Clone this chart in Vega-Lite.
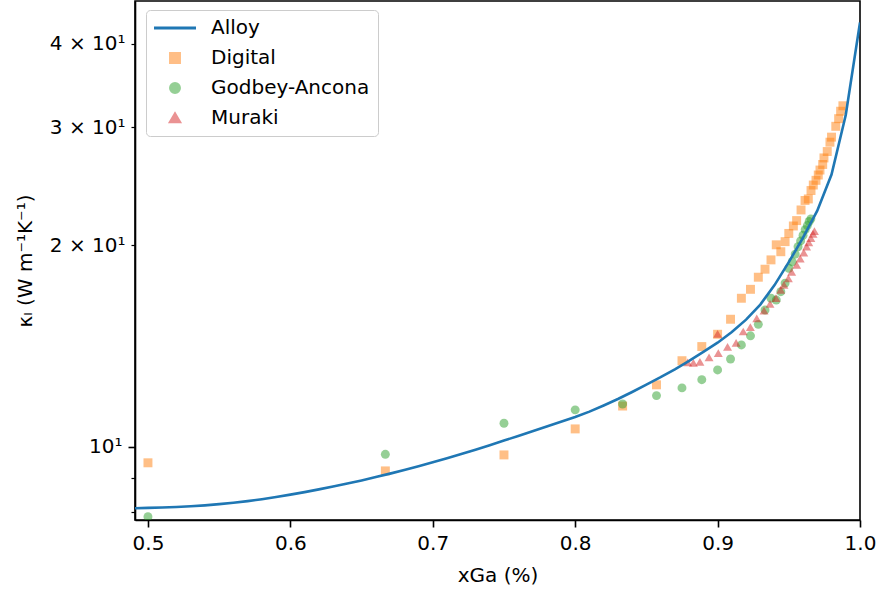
{
  "$schema": "https://vega.github.io/schema/vega-lite/v6.json",
  "width": 725,
  "height": 519,
  "autosize": {"type": "none"},
  "padding": {"left": 135, "top": 1, "right": 18, "bottom": 74},
  "background": "white",
  "config": {
    "font": "DejaVu Sans",
    "view": {"stroke": "black", "strokeWidth": 1.6},
    "axis": {
      "grid": false,
      "domainColor": "black",
      "domainWidth": 1.6,
      "tickColor": "black",
      "tickWidth": 1.6,
      "labelColor": "black",
      "labelFont": "DejaVu Sans",
      "labelFontSize": 20,
      "titleFont": "DejaVu Sans",
      "titleFontSize": 20,
      "titleFontWeight": "normal",
      "titleColor": "black"
    },
    "legend": {
      "title": null,
      "orient": "none",
      "legendX": 11,
      "legendY": 9,
      "padding": 8,
      "fillColor": "white",
      "strokeColor": "#cccccc",
      "cornerRadius": 4,
      "labelFont": "DejaVu Sans",
      "labelFontSize": 20,
      "labelColor": "black",
      "labelOffset": 15,
      "symbolSize": 1764,
      "clipHeight": 20,
      "rowPadding": 10
    }
  },
  "datasets": {
    "alloy": [
      {"series": "Alloy", "x": 0.49, "y": 8.10}, {"series": "Alloy", "x": 0.50, "y": 8.11},
      {"series": "Alloy", "x": 0.51, "y": 8.12}, {"series": "Alloy", "x": 0.52, "y": 8.135},
      {"series": "Alloy", "x": 0.53, "y": 8.155}, {"series": "Alloy", "x": 0.54, "y": 8.182},
      {"series": "Alloy", "x": 0.55, "y": 8.215}, {"series": "Alloy", "x": 0.56, "y": 8.255},
      {"series": "Alloy", "x": 0.57, "y": 8.302}, {"series": "Alloy", "x": 0.58, "y": 8.356},
      {"series": "Alloy", "x": 0.59, "y": 8.418}, {"series": "Alloy", "x": 0.60, "y": 8.488},
      {"series": "Alloy", "x": 0.61, "y": 8.563}, {"series": "Alloy", "x": 0.62, "y": 8.643},
      {"series": "Alloy", "x": 0.63, "y": 8.728}, {"series": "Alloy", "x": 0.64, "y": 8.818},
      {"series": "Alloy", "x": 0.65, "y": 8.914}, {"series": "Alloy", "x": 0.66, "y": 9.016},
      {"series": "Alloy", "x": 0.67, "y": 9.124}, {"series": "Alloy", "x": 0.68, "y": 9.238},
      {"series": "Alloy", "x": 0.69, "y": 9.358}, {"series": "Alloy", "x": 0.70, "y": 9.484},
      {"series": "Alloy", "x": 0.71, "y": 9.617}, {"series": "Alloy", "x": 0.72, "y": 9.757},
      {"series": "Alloy", "x": 0.73, "y": 9.904}, {"series": "Alloy", "x": 0.74, "y": 10.059},
      {"series": "Alloy", "x": 0.75, "y": 10.222}, {"series": "Alloy", "x": 0.76, "y": 10.387},
      {"series": "Alloy", "x": 0.77, "y": 10.555}, {"series": "Alloy", "x": 0.78, "y": 10.727},
      {"series": "Alloy", "x": 0.79, "y": 10.903}, {"series": "Alloy", "x": 0.80, "y": 11.085},
      {"series": "Alloy", "x": 0.81, "y": 11.29}, {"series": "Alloy", "x": 0.82, "y": 11.53},
      {"series": "Alloy", "x": 0.83, "y": 11.79}, {"series": "Alloy", "x": 0.84, "y": 12.08},
      {"series": "Alloy", "x": 0.85, "y": 12.39}, {"series": "Alloy", "x": 0.86, "y": 12.71},
      {"series": "Alloy", "x": 0.87, "y": 13.06}, {"series": "Alloy", "x": 0.88, "y": 13.44},
      {"series": "Alloy", "x": 0.89, "y": 13.86}, {"series": "Alloy", "x": 0.90, "y": 14.31},
      {"series": "Alloy", "x": 0.91, "y": 14.84}, {"series": "Alloy", "x": 0.92, "y": 15.49},
      {"series": "Alloy", "x": 0.93, "y": 16.31}, {"series": "Alloy", "x": 0.94, "y": 17.44},
      {"series": "Alloy", "x": 0.95, "y": 18.87}, {"series": "Alloy", "x": 0.96, "y": 20.53},
      {"series": "Alloy", "x": 0.97, "y": 22.52}, {"series": "Alloy", "x": 0.98, "y": 25.50},
      {"series": "Alloy", "x": 0.99, "y": 31.30}, {"series": "Alloy", "x": 1.00, "y": 43.00}
    ],
    "pts": [
      {"series": "Digital", "x": 0.5, "y": 9.47},
      {"series": "Digital", "x": 0.6667, "y": 9.21},
      {"series": "Digital", "x": 0.75, "y": 9.73},
      {"series": "Digital", "x": 0.8, "y": 10.64},
      {"series": "Digital", "x": 0.8333, "y": 11.51},
      {"series": "Digital", "x": 0.8571, "y": 12.38},
      {"series": "Digital", "x": 0.875, "y": 13.45},
      {"series": "Digital", "x": 0.8889, "y": 14.12},
      {"series": "Digital", "x": 0.9, "y": 14.73},
      {"series": "Digital", "x": 0.9091, "y": 15.51},
      {"series": "Digital", "x": 0.9167, "y": 16.67},
      {"series": "Digital", "x": 0.9231, "y": 17.19},
      {"series": "Digital", "x": 0.9286, "y": 17.92},
      {"series": "Digital", "x": 0.9333, "y": 18.42},
      {"series": "Digital", "x": 0.9375, "y": 19.02},
      {"series": "Digital", "x": 0.9412, "y": 20.03},
      {"series": "Digital", "x": 0.9444, "y": 19.56},
      {"series": "Digital", "x": 0.9474, "y": 20.25},
      {"series": "Digital", "x": 0.95, "y": 20.83},
      {"series": "Digital", "x": 0.9532, "y": 21.37},
      {"series": "Digital", "x": 0.9555, "y": 21.77},
      {"series": "Digital", "x": 0.9586, "y": 22.58},
      {"series": "Digital", "x": 0.9614, "y": 23.33},
      {"series": "Digital", "x": 0.9637, "y": 23.45},
      {"series": "Digital", "x": 0.9656, "y": 24.14},
      {"series": "Digital", "x": 0.9672, "y": 24.6},
      {"series": "Digital", "x": 0.9691, "y": 25.0},
      {"series": "Digital", "x": 0.9707, "y": 25.46},
      {"series": "Digital", "x": 0.9719, "y": 25.9},
      {"series": "Digital", "x": 0.9738, "y": 26.4},
      {"series": "Digital", "x": 0.9747, "y": 27.0},
      {"series": "Digital", "x": 0.977, "y": 27.6},
      {"series": "Digital", "x": 0.9789, "y": 28.5},
      {"series": "Digital", "x": 0.98, "y": 29.0},
      {"series": "Digital", "x": 0.983, "y": 30.1},
      {"series": "Digital", "x": 0.985, "y": 30.9},
      {"series": "Digital", "x": 0.9864, "y": 31.7},
      {"series": "Digital", "x": 0.988, "y": 32.3},
      {"series": "Godbey-Ancona", "x": 0.5, "y": 7.87},
      {"series": "Godbey-Ancona", "x": 0.6667, "y": 9.75},
      {"series": "Godbey-Ancona", "x": 0.75, "y": 10.85},
      {"series": "Godbey-Ancona", "x": 0.8, "y": 11.36},
      {"series": "Godbey-Ancona", "x": 0.8333, "y": 11.59},
      {"series": "Godbey-Ancona", "x": 0.8571, "y": 11.93},
      {"series": "Godbey-Ancona", "x": 0.875, "y": 12.25},
      {"series": "Godbey-Ancona", "x": 0.8889, "y": 12.6},
      {"series": "Godbey-Ancona", "x": 0.9, "y": 13.03},
      {"series": "Godbey-Ancona", "x": 0.9091, "y": 13.53},
      {"series": "Godbey-Ancona", "x": 0.9167, "y": 14.2},
      {"series": "Godbey-Ancona", "x": 0.9231, "y": 14.65},
      {"series": "Godbey-Ancona", "x": 0.9286, "y": 15.24},
      {"series": "Godbey-Ancona", "x": 0.9333, "y": 16.01},
      {"series": "Godbey-Ancona", "x": 0.9375, "y": 16.67},
      {"series": "Godbey-Ancona", "x": 0.9412, "y": 16.57},
      {"series": "Godbey-Ancona", "x": 0.9444, "y": 17.05},
      {"series": "Godbey-Ancona", "x": 0.9474, "y": 17.56},
      {"series": "Godbey-Ancona", "x": 0.95, "y": 18.48},
      {"series": "Godbey-Ancona", "x": 0.9524, "y": 18.9},
      {"series": "Godbey-Ancona", "x": 0.9545, "y": 19.4},
      {"series": "Godbey-Ancona", "x": 0.9565, "y": 19.9},
      {"series": "Godbey-Ancona", "x": 0.9583, "y": 20.3},
      {"series": "Godbey-Ancona", "x": 0.96, "y": 20.7},
      {"series": "Godbey-Ancona", "x": 0.9615, "y": 21.1},
      {"series": "Godbey-Ancona", "x": 0.963, "y": 21.4},
      {"series": "Godbey-Ancona", "x": 0.9643, "y": 21.7},
      {"series": "Godbey-Ancona", "x": 0.9655, "y": 21.9},
      {"series": "Muraki", "x": 0.879, "y": 13.37},
      {"series": "Muraki", "x": 0.883, "y": 13.35},
      {"series": "Muraki", "x": 0.8876, "y": 13.4},
      {"series": "Muraki", "x": 0.894, "y": 13.6},
      {"series": "Muraki", "x": 0.9, "y": 14.75},
      {"series": "Muraki", "x": 0.9005, "y": 13.8},
      {"series": "Muraki", "x": 0.907, "y": 14.1},
      {"series": "Muraki", "x": 0.913, "y": 14.3},
      {"series": "Muraki", "x": 0.918, "y": 14.87},
      {"series": "Muraki", "x": 0.923, "y": 15.1},
      {"series": "Muraki", "x": 0.9275, "y": 15.55},
      {"series": "Muraki", "x": 0.9326, "y": 15.97},
      {"series": "Muraki", "x": 0.9368, "y": 16.35},
      {"series": "Muraki", "x": 0.941, "y": 16.68},
      {"series": "Muraki", "x": 0.9443, "y": 17.15},
      {"series": "Muraki", "x": 0.9466, "y": 17.45},
      {"series": "Muraki", "x": 0.9497, "y": 17.85},
      {"series": "Muraki", "x": 0.952, "y": 18.25},
      {"series": "Muraki", "x": 0.9555, "y": 18.7},
      {"series": "Muraki", "x": 0.958, "y": 19.1},
      {"series": "Muraki", "x": 0.9605, "y": 19.5},
      {"series": "Muraki", "x": 0.9625, "y": 19.9},
      {"series": "Muraki", "x": 0.964, "y": 20.2},
      {"series": "Muraki", "x": 0.9655, "y": 20.5},
      {"series": "Muraki", "x": 0.967, "y": 20.8},
      {"series": "Muraki", "x": 0.968, "y": 21.0}
    ]
  },
  "encoding": {
    "x": {
      "field": "x",
      "type": "quantitative",
      "scale": {"domain": [0.4909, 1.0], "nice": false, "zero": false},
      "axis": {
        "title": "xGa (%)",
        "values": [0.5, 0.6, 0.7, 0.8, 0.9, 1.0],
        "format": ".1f",
        "tickSize": 7,
        "labelPadding": 6,
        "labelFlush": false,
        "titlePadding": 12
      }
    },
    "y": {
      "field": "y",
      "type": "quantitative",
      "scale": {"type": "log", "domain": [7.78, 46.3], "nice": false},
      "axis": {
        "title": "κₗ (W m⁻¹K⁻¹)",
        "values": [8, 9, 10, 20, 30, 40],
        "labelExpr": "datum.value == 10 ? '10¹' : datum.value == 20 ? '2 × 10¹' : datum.value == 30 ? '3 × 10¹' : datum.value == 40 ? '4 × 10¹' : ''",
        "tickSize": {"condition": {"test": "datum.value == 10", "value": 7}, "value": 4},
        "tickWidth": {"condition": {"test": "datum.value == 10", "value": 1.6}, "value": 1.2},
        "labelPadding": 6,
        "titlePadding": 14
      }
    },
    "color": {
      "field": "series",
      "type": "nominal",
      "scale": {
        "domain": ["Alloy", "Digital", "Godbey-Ancona", "Muraki"],
        "range": ["#1f77b4", "#ff7f0e", "#2ca02c", "#d62728"]
      },
      "legend": {
        "encode": {
          "symbols": {
            "update": {
              "x": {"value": 21},
              "size": {"signal": "datum.value === 'Alloy' ? 1764 : 80"},
              "fill": {"signal": "datum.value === 'Alloy' ? 'transparent' : scale('color', datum.value)"},
              "stroke": {"signal": "datum.value === 'Alloy' ? '#1f77b4' : 'transparent'"},
              "strokeWidth": {"value": 3},
              "opacity": {"signal": "datum.value === 'Alloy' ? 1 : 0.5"}
            }
          },
          "labels": {
            "update": {"x": {"value": 57}}
          }
        }
      }
    }
  },
  "layer": [
    {
      "data": {"name": "pts"},
      "mark": {"type": "point", "filled": true, "opacity": 0.5, "size": 80, "clip": true, "strokeWidth": 0},
      "encoding": {
        "shape": {
          "field": "series",
          "type": "nominal",
          "scale": {
            "domain": ["Alloy", "Digital", "Godbey-Ancona", "Muraki"],
            "range": ["stroke", "square", "circle", "triangle-up"]
          },
          "legend": {
            "encode": {
              "symbols": {
                "update": {
                  "x": {"value": 21},
                  "size": {"signal": "datum.value === 'Alloy' ? 1764 : 80"},
                  "fill": {"signal": "datum.value === 'Alloy' ? 'transparent' : scale('color', datum.value)"},
                  "stroke": {"signal": "datum.value === 'Alloy' ? '#1f77b4' : 'transparent'"},
                  "strokeWidth": {"value": 3},
                  "opacity": {"signal": "datum.value === 'Alloy' ? 1 : 0.5"}
                }
              },
              "labels": {
                "update": {"x": {"value": 57}}
              }
            }
          }
        }
      }
    },
    {
      "data": {"name": "alloy"},
      "mark": {"type": "line", "strokeWidth": 2.6, "clip": true},
      "encoding": {}
    }
  ]
}
